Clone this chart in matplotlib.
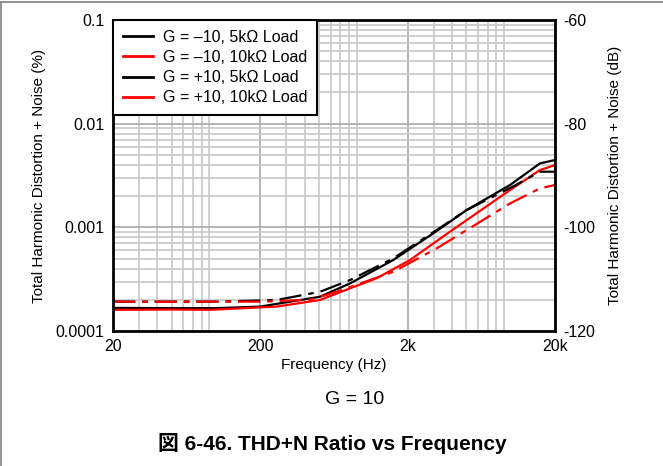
import numpy as np
import matplotlib
matplotlib.use('Agg')
import matplotlib.pyplot as plt
from matplotlib.lines import Line2D
from matplotlib.ticker import LogLocator, FixedLocator, FixedFormatter, NullFormatter

plt.rcParams['font.family'] = ['Liberation Sans', 'Noto Sans CJK JP']
plt.rcParams['lines.scale_dashes'] = False

# G = -10, 5k load
freq_a = [20, 50, 100, 200, 508, 813, 1597, 2985, 5035, 9905, 15820, 20000]
thd_a = [1.67e-4, 1.66e-4, 1.66e-4, 1.72e-4, 2.14e-4, 2.88e-4, 4.84e-4, 8.75e-4, 1.47e-3, 2.56e-3, 4.14e-3, 4.46e-3]
# G = -10, 10k load
freq_b = [20, 50, 91, 258, 508, 813, 1233, 2075, 3490, 5880, 9905, 15820, 20000]
thd_b = [1.60e-4, 1.61e-4, 1.60e-4, 1.72e-4, 1.99e-4, 2.58e-4, 3.23e-4, 4.84e-4, 8.18e-4, 1.37e-3, 2.29e-3, 3.57e-3, 3.98e-3]
# G = +10, 5k load
freq_c = [20, 50, 100, 258, 508, 813, 1600, 3148, 5035, 10500, 15820, 20000]
thd_c = [1.92e-4, 1.92e-4, 1.92e-4, 1.99e-4, 2.39e-4, 3.10e-4, 5.02e-4, 9.42e-4, 1.47e-3, 2.50e-3, 3.44e-3, 3.44e-3]
# G = +10, 10k load
freq_d = [20, 50, 100, 200, 435, 660, 1600, 3148, 5035, 9905, 15820, 20000]
thd_d = [1.92e-4, 1.91e-4, 1.92e-4, 1.92e-4, 2.00e-4, 2.39e-4, 3.73e-4, 6.27e-4, 9.42e-4, 1.70e-3, 2.38e-3, 2.56e-3]

labels = ['G = \u201310, 5k\u03a9 Load', 'G = \u201310, 10k\u03a9 Load',
          'G = +10, 5k\u03a9 Load', 'G = +10, 10k\u03a9 Load']
xticks = [20, 200, 2000, 20000]
xtick_labels = ['20', '200', '2k', '20k']
yticks = [1e-4, 1e-3, 1e-2, 1e-1]
ytick_labels = ['0.0001', '0.001', '0.01', '0.1']
db_ticks = [-120, -100, -80, -60]

fig = plt.figure(figsize=(6.63, 4.66), dpi=100)
ax = fig.add_axes([113 / 663, 1 - 331 / 466, 442 / 663, 311 / 466])

dash = (0, (16, 5, 4, 5))
ax.plot(freq_a, thd_a, color='black', lw=1.6)
ax.plot(freq_b, thd_b, color='red', lw=1.6)
ax.plot(freq_c, thd_c, color='black', lw=1.6, linestyle=dash)
ax.plot(freq_d, thd_d, color='red', lw=1.6, linestyle=dash)

ax.set_xscale('log')
ax.set_yscale('log')
ax.set_xlim(20, 20000)
ax.set_ylim(1e-4, 0.1)

ax.xaxis.set_major_locator(FixedLocator(xticks))
ax.xaxis.set_major_formatter(FixedFormatter(xtick_labels))
ax.xaxis.set_minor_locator(LogLocator(base=10, subs=np.arange(2, 10)))
ax.xaxis.set_minor_formatter(NullFormatter())
ax.yaxis.set_major_locator(FixedLocator(yticks))
ax.yaxis.set_major_formatter(FixedFormatter(ytick_labels))
ax.yaxis.set_minor_locator(LogLocator(base=10, subs=np.arange(2, 10)))
ax.yaxis.set_minor_formatter(NullFormatter())

ax.grid(True, which='major', color='#a8a8a8', lw=1.2)
ax.grid(True, which='minor', color='#c8c8c8', lw=1.2)
ax.set_axisbelow(True)
ax.tick_params(which='both', length=0, labelsize=11.5, pad=6)

for s in ax.spines.values():
    s.set_linewidth(2)
    s.set_color('black')

ax.set_xlabel('Frequency (Hz)', fontsize=11, labelpad=3)
ax.set_ylabel('Total Harmonic Distortion + Noise (%)', fontsize=11, labelpad=7)

ax2 = ax.twinx()
ax2.set_ylim(-120, -60)
ax2.set_yticks(db_ticks)
ax2.set_yticklabels([str(t) for t in db_ticks])
ax2.tick_params(length=0, labelsize=11.5, pad=6)
ax2.set_ylabel('Total Harmonic Distortion + Noise (dB)', fontsize=11, labelpad=9)
for s in ax2.spines.values():
    s.set_visible(False)

handles = [Line2D([], [], color=c, lw=2) for c in ['black', 'red', 'black', 'red']]
leg = ax.legend(handles, labels, loc='upper left', fontsize=11.5, fancybox=False,
                framealpha=1, edgecolor='black', borderaxespad=0, handlelength=1.9,
                labelspacing=0.33, borderpad=0.6, handletextpad=0.63)
leg.get_frame().set_linewidth(1.5)
leg.set_zorder(5)

fig.text(355 / 663, 1 - 400 / 466, 'G = 10', fontsize=14, ha='center', va='center')
fig.text(332 / 663, 1 - 443 / 466, '\u56f3 6-46. THD+N Ratio vs Frequency', fontsize=15,
         fontweight='bold', ha='center', va='center')

fig.add_artist(Line2D([0, 1], [1 - 2 / 466, 1 - 2 / 466], color='#808080', lw=1.2,
                      transform=fig.transFigure))
fig.add_artist(Line2D([1 / 663, 1 / 663], [0, 1 - 2 / 466], color='#808080', lw=1.2,
                      transform=fig.transFigure))

fig.savefig('out.png', dpi=100)
